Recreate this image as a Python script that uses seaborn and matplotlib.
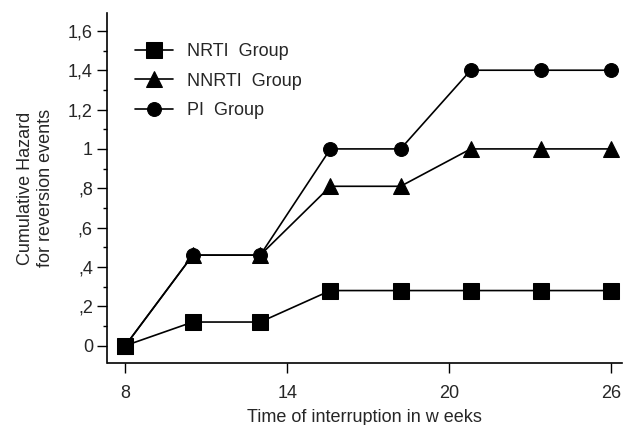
import numpy as np
import pandas as pd
import matplotlib
matplotlib.use('Agg')
import matplotlib.pyplot as plt
from matplotlib.ticker import MultipleLocator
import seaborn as sns

# Data
weeks = [8, 10.5, 13, 15.6, 18.2, 20.8, 23.4, 26]
nrti = [0, 0.12, 0.12, 0.28, 0.28, 0.28, 0.28, 0.28]
nnrti = [0, 0.46, 0.46, 0.81, 0.81, 1.0, 1.0, 1.0]
pi = [0, 0.46, 0.46, 1.0, 1.0, 1.4, 1.4, 1.4]
y_ticks = [0, 0.2, 0.4, 0.6, 0.8, 1.0, 1.2, 1.4, 1.6]
y_tick_labels = ['0', ',2', ',4', ',6', ',8', '1', '1,2', '1,4', '1,6']
x_ticks = [8, 14, 20, 26]

sns.set_style('ticks')
plt.rcParams['font.family'] = ['Liberation Sans', 'DejaVu Sans']

fig = plt.figure(figsize=(6.25, 4.25), dpi=100)
ax = fig.add_axes([0.172, 0.146, 0.823, 0.823])

series = [
    (nrti, 's', 11, 'NRTI  Group'),
    (nnrti, '^', 11, 'NNRTI  Group'),
    (pi, 'o', 10, 'PI  Group'),
]
for vals, mk, ms, lab in series:
    sns.lineplot(x=weeks, y=vals, ax=ax, color='black', marker=mk, markersize=ms,
                 markeredgecolor='black', linewidth=1.2, label=lab)

ax.set_xlim(7.34, 26.4)
ax.set_ylim(-0.088, 1.69)
ax.set_xticks(x_ticks)
ax.set_xticklabels([str(t) for t in x_ticks], fontsize=13)
ax.set_yticks(y_ticks)
ax.set_yticklabels(y_tick_labels, fontsize=13)
ax.yaxis.set_minor_locator(MultipleLocator(0.1))
ax.tick_params(axis='both', which='major', length=7, width=1, direction='out', color='black')
ax.tick_params(axis='x', which='major', pad=9)
ax.tick_params(axis='y', which='minor', length=3, width=1, direction='out', color='black')

for s in ['top', 'right']:
    ax.spines[s].set_visible(False)
for s in ['left', 'bottom']:
    ax.spines[s].set_color('black')
    ax.spines[s].set_linewidth(1.2)

ax.set_xlabel('Time of interruption in w eeks', fontsize=13, labelpad=5)
ax.set_ylabel('Cumulative Hazard\nfor reversion events', fontsize=13, labelpad=10)

ax.legend(loc='upper left', bbox_to_anchor=(0.022, 0.96), frameon=False, fontsize=13,
          handlelength=2.1, labelspacing=0.68, handletextpad=0.75)

fig.savefig('out.png', dpi=100)
